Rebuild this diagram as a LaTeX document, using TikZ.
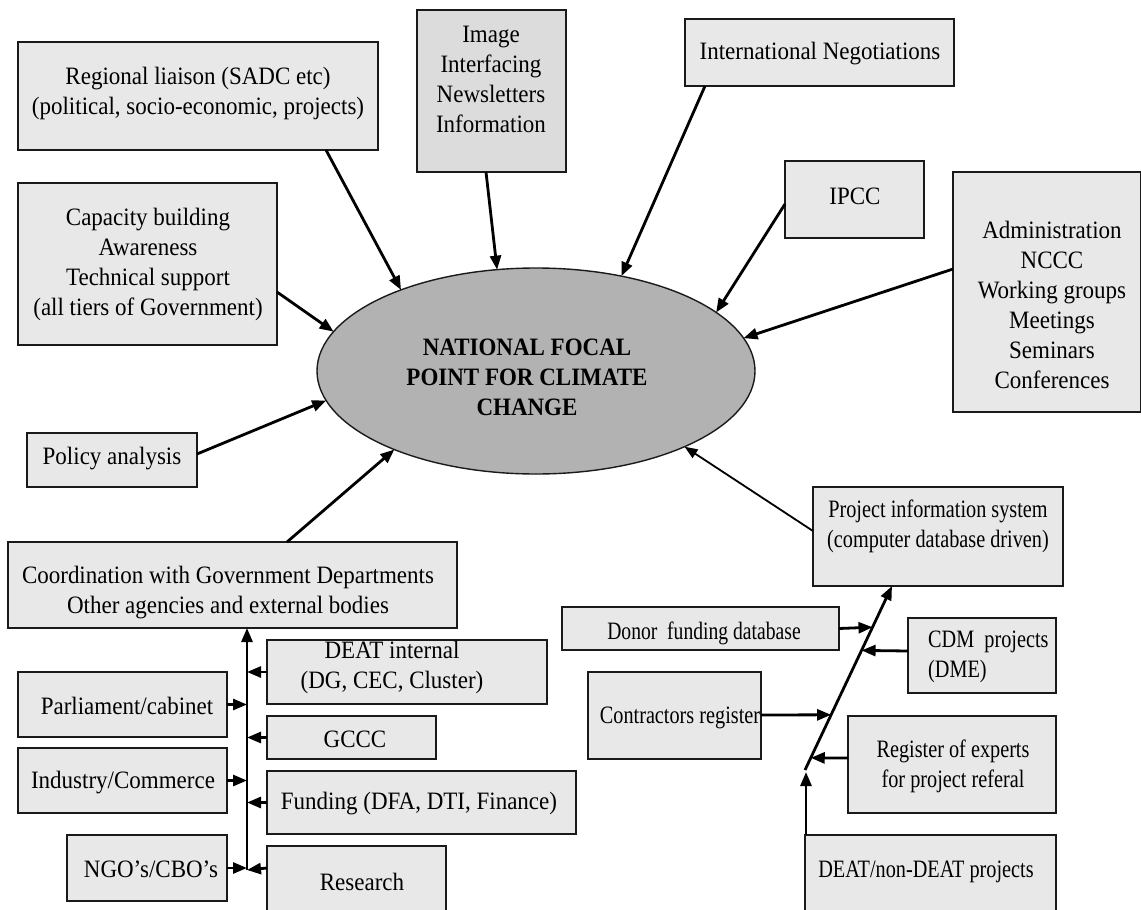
\documentclass[tikz,border=0pt]{standalone}
\usepackage{fontspec}
\setmainfont[FakeStretch=0.92]{Liberation Serif}
\newfontfamily\narrowserif[FakeStretch=0.81]{Liberation Serif}
\newfontfamily\narrowerserif[FakeStretch=0.785]{Liberation Serif}
\usetikzlibrary{fit,calc,arrows.meta,shapes.geometric}
\definecolor{boxfill}{HTML}{E8E8E8}
\definecolor{boxfilld}{HTML}{DCDCDC}
\definecolor{ellfill}{HTML}{B2B2B2}
\definecolor{edge}{HTML}{1A1A1A}
\tikzset{
  box/.style={draw=edge, line width=1.4pt, fill=boxfill, inner sep=0pt, outer sep=0pt},
  txt/.style={align=center, inner sep=0pt, font=\fontsize{25}{30}\selectfont},
  ntxt/.style={align=center, inner sep=0pt, font=\narrowserif\fontsize{25}{30}\selectfont},
  arr/.style={line width=2.8pt, -{Triangle[length=14pt,width=11pt]}},
  arrthin/.style={line width=1.8pt, -{Triangle[length=13pt,width=10pt]}},
}
\begin{document}
\begin{tikzpicture}[x=1pt,y=-1pt]
\useasboundingbox (0,0) rectangle (1141,910);
% central ellipse
\node[ellipse, draw=edge, line width=1.4pt, fill=ellfill, minimum width=438pt, minimum height=206pt, inner sep=0pt, outer sep=0pt] (ell) at (536,371) {};
\node[txt, font=\fontsize{25}{30}\selectfont\bfseries] (ellt) at (527,377) {NATIONAL FOCAL\\POINT FOR CLIMATE\\CHANGE};
% top / left boxes
\node[box, fit={(18,42) (378,150)}] (reg) {};
\node[txt] (regt) at (198,93) {Regional liaison (SADC etc)\\(political, socio-economic, projects)};
\node[box, fit={(18,183) (277,345)}] (cap) {};
\node[txt] (capt) at (148,264) {Capacity building\\Awareness\\Technical support\\(all tiers of Government)};
\node[box, fill=boxfilld, fit={(417,10) (566,172)}] (img) {};
\node[txt] (imgt) at (491,79) {Image\\Interfacing\\Newsletters\\Information};
\node[box, fit={(685,19) (954,86)}] (intl) {};
\node[txt] (intlt) at (820,54) {International Negotiations};
\node[box, fit={(785,161) (924,238)}] (ipcc) {};
\node[txt] (ipcct) at (855,196) {IPCC};
\node[box, fit={(953,172) (1141,412)}] (adm) {};
\node[txt] (admt) at (1052,305) {Administration\\NCCC\\Working groups\\Meetings\\Seminars\\Conferences};
\node[box, fit={(27,433) (197,487)}] (pol) {};
\node[txt] (polt) at (112,459) {Policy analysis};
\node[box, fit={(8,542) (457,628)}] (coord) {};
\node[txt] (coordt) at (228,593) {Coordination with Government Departments\\Other agencies and external bodies};
% bottom left cluster
\node[box, fit={(18,672) (227,737)}] (parl) {};
\node[txt] (parlt) at (127,706) {Parliament/cabinet};
\node[box, fit={(18,748) (227,813)}] (ind) {};
\node[txt] (indt) at (123,783) {Industry/Commerce};
\node[box, fit={(67,835) (227,901)}] (ngo) {};
\node[txt] (ngot) at (151,869) {NGO’s/CBO’s};
\node[box, fit={(267,640) (547,704)}] (deati) {};
\node[txt] (deatit) at (392,667) {DEAT internal\\(DG, CEC, Cluster)};
\node[box, fit={(267,716) (436,759)}] (gccc) {};
\node[txt] (gccct) at (355,739) {GCCC};
\node[box, fit={(267,771) (576,834)}] (fund) {};
\node[txt] (fundt) at (419,804) {Funding (DFA, DTI, Finance)};
\node[box, fit={(267,846) (446,920)}] (res) {};
\node[txt] (rest) at (362,882) {Research};
% bottom right cluster
\node[box, fit={(813,487) (1063,586)}] (pis) {};
\node[ntxt] (pist) at (938,526) {Project information system\\(computer database driven)};
\node[box, fit={(562,607) (839,650)}] (donor) {};
\node[ntxt, font=\narrowerserif\fontsize{25}{30}\selectfont] (donort) at (704,633) {Donor\ \ funding database};
\node[box, fit={(908,618) (1056,693)}] (cdm) {};
\node[ntxt, align=left, anchor=west] (cdmt) at (928,657) {CDM\ \ projects\\(DME)};
\node[box, fit={(588,672) (761,759)}] (con) {};
\node[ntxt] (cont) at (680,718) {Contractors register};
\node[box, fit={(848,716) (1056,813)}] (rex) {};
\node[ntxt] (rext) at (953,766) {Register of experts\\for project referal};
\node[box, fit={(805,835) (1056,920)}] (dnd) {};
\node[ntxt] (dndt) at (926,872) {DEAT/non-DEAT projects};
% arrows into the focal point
\draw[arr] ($(reg.south west)+(308,0)$) -- (ell.149.8);
\draw[arr] ($(cap.north east)+(0,109)$) -- (ell.169.2);
\draw[arr] ($(img.south west)+(69,0)$) -- (ell.111.1);
\draw[arr] ($(intl.south west)+(20,0)$) -- (ell.48.3);
\draw[arr] ($(ipcc.north west)+(0,43)$) -- (ell.18.7);
\draw[arr] ($(adm.north west)+(0,97)$) -- (ell.9.8);
\draw[arr] ($(pol.north east)+(0,21)$) -- (ell.188.2);
\draw[arr] ($(coord.north west)+(279,0)$) -- (ell.209.4);
\draw[arrthin] ($(pis.north west)+(0,44)$) -- (ell.333.9);
% coordination bus
\coordinate (busb) at (247,870);
\draw[arr] (busb) -- (coord.south -| busb);
\draw[arr] (parl.east) -- (parl.east -| busb);
\draw[arr] (ind.east) -- (ind.east -| busb);
\draw[arr] (ngo.east) -- (ngo.east -| busb);
\draw[arr] (deati.west) -- (deati.west -| busb);
\draw[arr] (gccc.west) -- (gccc.west -| busb);
\draw[arr] (fund.west) -- (fund.west -| busb);
\draw[arr] ($(res.north west)+(0,22)$) -- (busb);
% project information spine
\coordinate (sb) at (805,770);
\coordinate (st) at ($(pis.south west)+(79,0)$);
\draw[arr] (sb) -- (st);
\draw[arr] ($(dnd.north west)+(1,0)$) -- ($(sb)+(1,2)$);
\draw[arr] (donor.east) -- ($(sb)!0.776!(st)$);
\draw[arr] ($(cdm.north west)+(0,33)$) -- ($(sb)!0.650!(st)$);
\draw[arr] ($(con.north west)+(173,43)$) -- ($(sb)!0.30!(st)$);
\draw[arr] ($(rex.north west)+(0,42)$) -- ($(sb)!0.066!(st)$);
\end{tikzpicture}
\end{document}
